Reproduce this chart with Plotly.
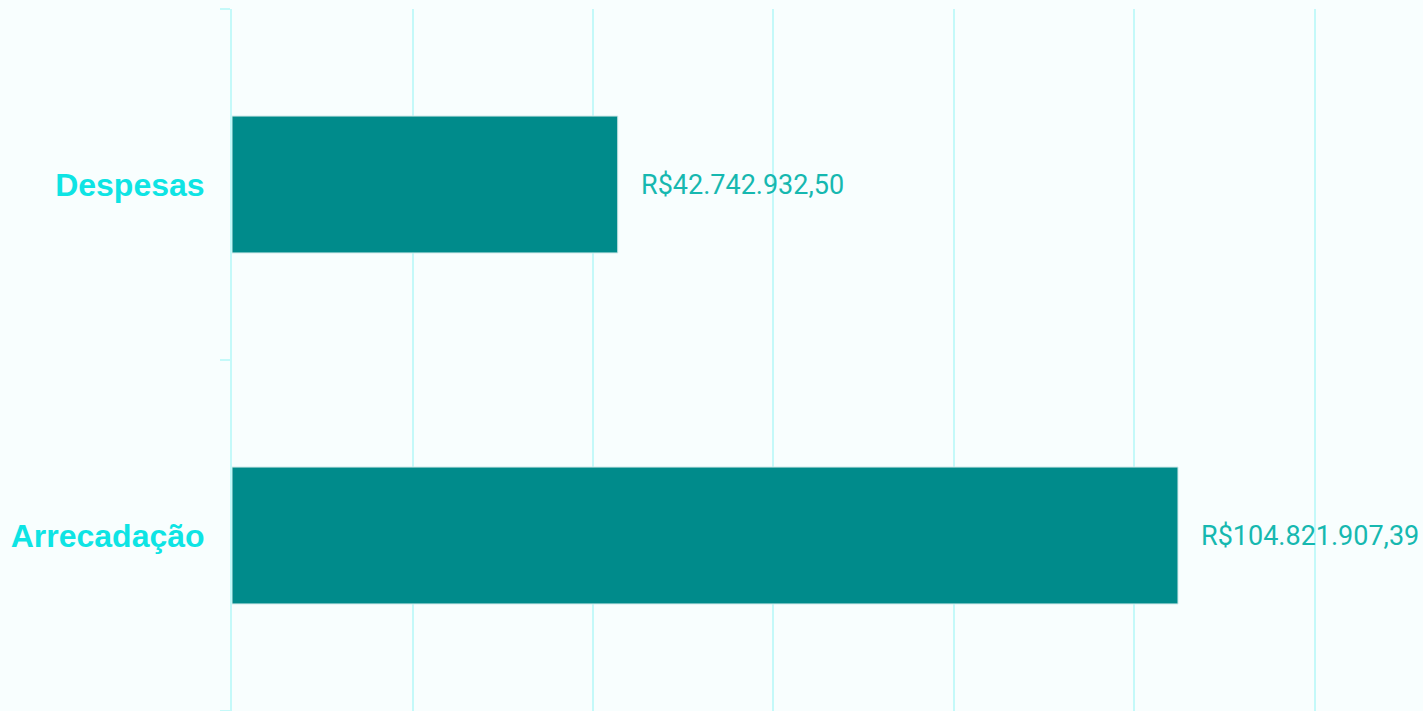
import plotly.graph_objects as go

categories = ["Arrecadação", "Despesas"]
values = [104821907.39, 42742932.50]
grid_step = 20_000_000


def brl(v):
    s = f"{v:,.2f}"
    s = s.replace(",", "X").replace(".", ",").replace("X", ".")
    return "R$" + s


labels = [brl(v) for v in values]

BG = "#f8fefe"
GRID = "#c4f9f9"

fig = go.Figure()
fig.add_trace(go.Bar(
    y=categories,
    x=values,
    orientation="h",
    width=0.39,
    marker=dict(color="#008b8b", line=dict(color="#cfe9e9", width=1)),
    hoverinfo="skip",
))

for c, v, t in zip(categories, values, labels):
    fig.add_annotation(
        x=v, y=c, text=t, showarrow=False, xanchor="left", yanchor="middle",
        xshift=21, font=dict(family="Roboto, Arial, sans-serif", size=27, color="#16b8b0"),
    )

fig.update_layout(
    width=1423, height=711,
    margin=dict(l=232, r=0, t=9, b=0),
    paper_bgcolor=BG, plot_bgcolor=BG,
    showlegend=False,
    xaxis=dict(
        range=[0, 131.97e6], dtick=grid_step, tick0=0,
        showgrid=True, gridcolor=GRID, gridwidth=2,
        showticklabels=False, zeroline=False, showline=False, ticks="",
        fixedrange=True,
    ),
    yaxis=dict(
        range=[-0.5, 1.5],
        tickson="boundaries", ticks="outside", ticklen=10, tickwidth=2, tickcolor=GRID,
        showline=True, linecolor=GRID, linewidth=2,
        showgrid=False, zeroline=False,
        tickfont=dict(family="Liberation Sans, Arial, sans-serif", size=32, color="#0ee4e4", weight="bold"),
        ticklabelstandoff=19,
        fixedrange=True,
    ),
)

fig.write_html(
    "out.html",
    config={"displayModeBar": False},
    post_script="document.body.style.margin='0';document.body.style.padding='0';document.body.style.overflow='hidden';",
)
